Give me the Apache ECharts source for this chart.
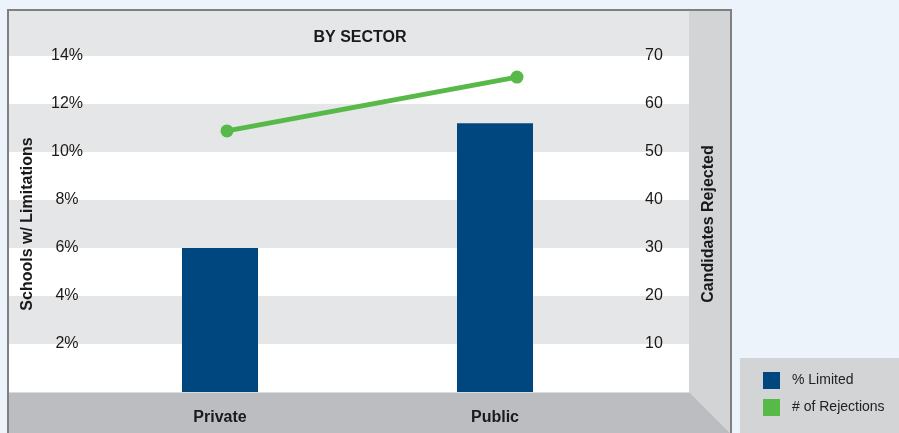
<!DOCTYPE html>
<html>
<head>
<meta charset="utf-8">
<script src="https://cdn.jsdelivr.net/npm/echarts@6/dist/echarts.min.js"></script>
<style>
  html, body { margin: 0; padding: 0; background: #EDF3FB; }
  #root { width: 899px; height: 433px; }
</style>
</head>
<body>
<div id="root"></div>
<script>
// data
const sectors = ['Private', 'Public']
const pctLimited = [6.0, 11.2]
const rejections = [54.4, 65.6]

const font = 'Liberation Sans, Arial, sans-serif'
const ink = '#1a1a1a'

const chart = echarts.init(document.getElementById('root'))

const hideAxis = {
  axisLine: { show: false },
  axisTick: { show: false },
  axisLabel: { show: false },
  splitLine: { show: false }
}

const option = {
  backgroundColor: '#EDF3FB',
  animation: false,
  title: {
    text: 'BY SECTOR',
    left: 355,
    textAlign: 'center',
    top: 25,
    textStyle: { fontFamily: font, fontSize: 16, fontWeight: 'bold', color: ink }
  },
  legend: {
    orient: 'vertical',
    left: 758,
    top: 367,
    itemWidth: 17,
    itemHeight: 17,
    itemGap: 10,
    data: [
      { name: '% Limited', icon: 'rect' },
      { name: '# of Rejections', icon: 'rect' }
    ],
    textStyle: { fontFamily: font, fontSize: 14, color: '#222', padding: [0, 0, 0, 7] }
  },
  graphic: [
    // frame background (grey above the 14% line)
    { type: 'rect', z: -20, shape: { x: 8, y: 10, width: 724, height: 430 }, style: { fill: '#E5E6E8' } },
    // right side strip with bevel
    { type: 'polygon', z: 50, shape: { points: [[689, 10], [731, 10], [731, 440], [737, 440], [689, 392]] }, style: { fill: '#D3D4D6' } },
    // bottom floor strip
    { type: 'polygon', z: 50, shape: { points: [[9, 392], [689, 392], [737, 440], [9, 440]] }, style: { fill: '#BCBDC1' } },
    { type: 'line', z: 51, shape: { x1: 9, y1: 392.5, x2: 689, y2: 392.5 }, style: { stroke: '#DADBDD', lineWidth: 1 } },
    // outer border
    { type: 'polyline', z: 60, shape: { points: [[8, 440], [8, 10], [731, 10], [731, 440]] }, style: { stroke: '#808080', lineWidth: 2, fill: null } },
    // legend panel
    { type: 'rect', z: -20, shape: { x: 740, y: 358, width: 170, height: 80 }, style: { fill: '#D3D4D6' } }
  ],
  grid: [
    // full width grid, only for the banded background
    { left: 9, right: 210, top: 56, bottom: 41 },
    // bars
    { left: 82.5, right: 266.5, top: 56, bottom: 41 },
    // line
    { left: 82, right: 237, top: 56, bottom: 41 }
  ],
  xAxis: [
    { type: 'category', gridIndex: 0, data: sectors, ...hideAxis },
    {
      type: 'category',
      gridIndex: 1,
      data: sectors,
      axisLine: { show: false },
      axisTick: { show: false },
      z: 55,
      axisLabel: { margin: 18, fontFamily: font, fontSize: 16, fontWeight: 'bold', color: ink }
    },
    { type: 'category', gridIndex: 2, data: sectors, ...hideAxis }
  ],
  yAxis: [
    {
      type: 'value',
      gridIndex: 0,
      min: 0,
      max: 14,
      interval: 2,
      axisLine: { show: false },
      axisTick: { show: false },
      axisLabel: { show: false },
      splitLine: { show: false },
      splitArea: { show: true, areaStyle: { color: ['#FFFFFF', '#E5E6E8'] } }
    },
    {
      type: 'value',
      gridIndex: 1,
      min: 0,
      max: 14,
      interval: 2,
      name: 'Schools w/ Limitations',
      nameLocation: 'middle',
      nameRotate: 90,
      nameGap: 47,
      nameTextStyle: { fontFamily: font, fontSize: 16, fontWeight: 'bold', color: ink },
      axisLine: { show: false },
      axisTick: { show: false },
      splitLine: { show: false },
      axisLabel: {
        margin: 15.5,
        align: 'center',
        fontFamily: font,
        fontSize: 16,
        color: ink,
        formatter: v => (v === 0 ? '' : v + '%')
      }
    },
    {
      type: 'value',
      gridIndex: 1,
      position: 'right',
      min: 0,
      max: 70,
      interval: 10,
      name: 'Candidates Rejected',
      nameLocation: 'middle',
      nameRotate: 90,
      nameGap: 68,
      z: 55,
      nameTextStyle: { fontFamily: font, fontSize: 16, fontWeight: 'bold', color: ink },
      axisLine: { show: false },
      axisTick: { show: false },
      splitLine: { show: false },
      axisLabel: {
        margin: 21.5,
        align: 'center',
        fontFamily: font,
        fontSize: 16,
        color: ink,
        formatter: v => (v === 0 ? '' : String(v))
      }
    },
    { type: 'value', gridIndex: 2, min: 0, max: 70, interval: 10, ...hideAxis }
  ],
  series: [
    {
      name: '% Limited',
      type: 'bar',
      xAxisIndex: 1,
      yAxisIndex: 1,
      barWidth: 76,
      itemStyle: { color: '#00477F' },
      data: pctLimited
    },
    {
      name: '# of Rejections',
      type: 'line',
      xAxisIndex: 2,
      yAxisIndex: 3,
      symbol: 'circle',
      symbolSize: 13,
      lineStyle: { color: '#57B947', width: 5 },
      itemStyle: { color: '#57B947' },
      data: rejections
    }
  ]
}

if (option && typeof option === 'object') {
  chart.setOption(option, true)
}
</script>
</body>
</html>
